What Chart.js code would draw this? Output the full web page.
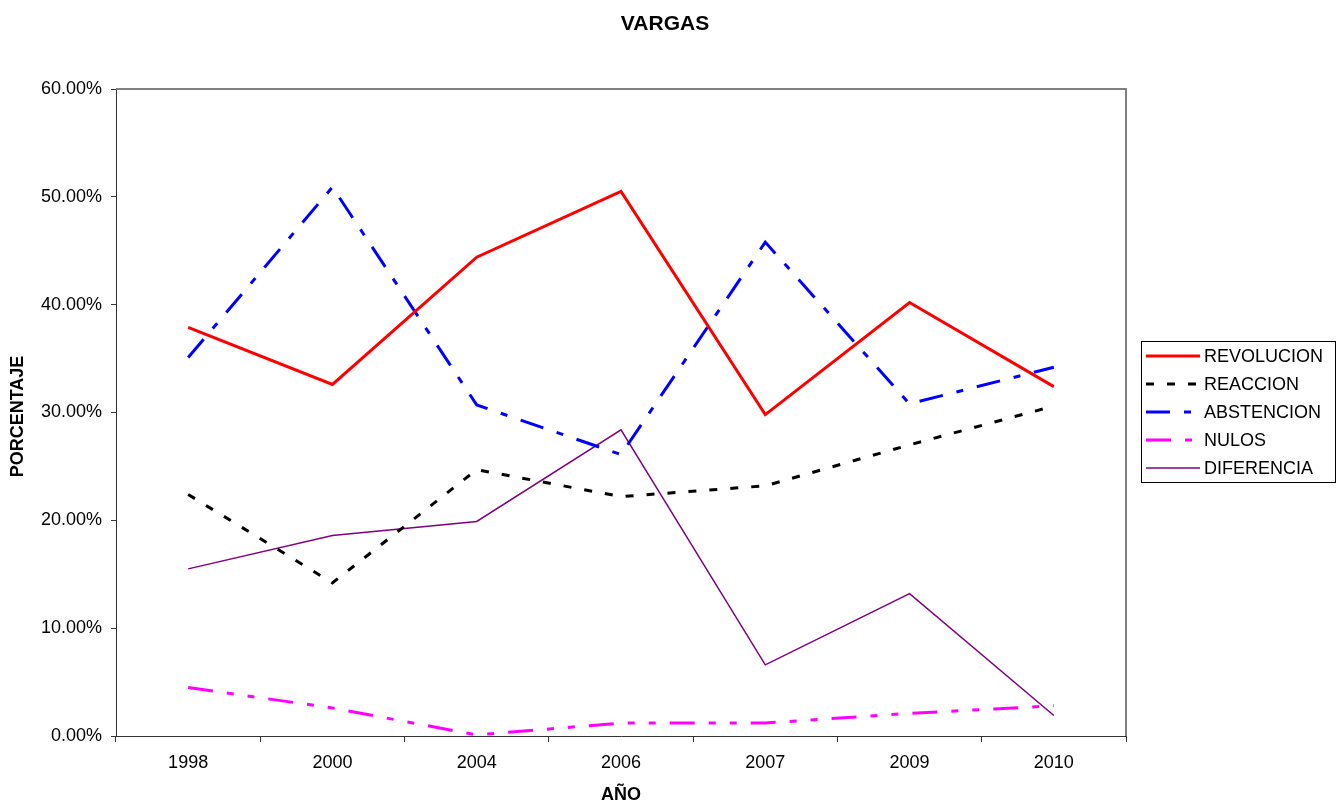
<!DOCTYPE html>
<html>
<head>
<meta charset="utf-8">
<title>VARGAS</title>
<script src="https://cdn.jsdelivr.net/npm/chart.js@4/dist/chart.umd.min.js"></script>
<style>
  body { margin: 0; background: #fff; }
  #wrap { width: 1342px; height: 804px; }
</style>
</head>
<body>
<div id="wrap"><canvas id="chart" width="1342" height="804"></canvas></div>
<script>
// Data (percent)
const years = ['1998', '2000', '2004', '2006', '2007', '2009', '2010'];
const revolucion = [37.9, 32.6, 44.4, 50.5, 29.8, 40.2, 32.4];
const reaccion   = [22.4, 14.2, 24.7, 22.2, 23.2, 27.0, 30.6];
const abstencion = [35.1, 50.9, 30.7, 26.1, 45.8, 30.8, 34.2];
const nulos      = [4.5, 2.6, 0.1, 1.2, 1.2, 2.1, 2.8];
const diferencia = [15.5, 18.6, 19.9, 28.4, 6.6, 13.2, 1.9];
const yTicks = [0, 10, 20, 30, 40, 50, 60];

const FONT = '"Liberation Sans", Arial, sans-serif';

// Draw title, axis titles, plot border and legend box
const extras = {
    id: 'extras',
    afterDraw(chart) {
        const ctx = chart.ctx;
        const area = chart.chartArea;
        ctx.save();

        // top / right border of plot area
        ctx.strokeStyle = '#808080';
        ctx.lineWidth = 2;
        ctx.beginPath();
        ctx.moveTo(area.left, area.top);
        ctx.lineTo(area.right, area.top);
        ctx.lineTo(area.right, area.bottom);
        ctx.stroke();

        ctx.fillStyle = '#000';
        ctx.textAlign = 'center';
        ctx.textBaseline = 'middle';
        ctx.font = 'bold 21px ' + FONT;
        ctx.fillText('VARGAS', 665, 24);

        ctx.font = 'bold 18px ' + FONT;
        ctx.fillText('AÑO', (area.left + area.right) / 2, 795);
        ctx.save();
        ctx.translate(18, (area.top + area.bottom) / 2 + 4);
        ctx.rotate(-Math.PI / 2);
        ctx.fillText('PORCENTAJE', 0, 0);
        ctx.restore();

        // legend
        ctx.strokeStyle = '#000';
        ctx.lineWidth = 1;
        ctx.strokeRect(1141.5, 341.5, 194, 141);
        ctx.font = '18px ' + FONT;
        ctx.textAlign = 'left';
        chart.data.datasets.forEach((ds, i) => {
            const y = 356 + i * 28;
            ctx.beginPath();
            ctx.strokeStyle = ds.borderColor;
            ctx.lineWidth = ds.borderWidth;
            ctx.setLineDash(ds.borderDash || []);
            ctx.moveTo(1146, y);
            ctx.lineTo(1200, y);
            ctx.stroke();
            ctx.setLineDash([]);
            ctx.fillStyle = '#000';
            ctx.fillText(ds.label, 1204, y + 1);
        });
        ctx.restore();
    }
};

new Chart(document.getElementById('chart'), {
    type: 'line',
    data: {
        labels: years,
        datasets: [
            { label: 'REVOLUCION', data: revolucion, borderColor: '#ff0000', borderWidth: 3 },
            { label: 'REACCION', data: reaccion, borderColor: '#000000', borderWidth: 3, borderDash: [8, 13] },
            { label: 'ABSTENCION', data: abstencion, borderColor: '#0000ff', borderWidth: 3, borderDash: [24, 14, 7, 14] },
            { label: 'NULOS', data: nulos, borderColor: '#ff00ff', borderWidth: 3, borderDash: [25, 14, 7, 14, 7, 14] },
            { label: 'DIFERENCIA', data: diferencia, borderColor: '#800080', borderWidth: 1.5 }
        ]
    },
    options: {
        responsive: false,
        animation: false,
        layout: { padding: { top: 89, right: 216, bottom: 0, left: 0 } },
        elements: {
            point: { radius: 0 },
            line: { tension: 0, borderCapStyle: 'butt' }
        },
        plugins: {
            legend: { display: false },
            title: { display: false },
            tooltip: { enabled: false }
        },
        scales: {
            x: {
                offset: true,
                grid: { offset: true, drawOnChartArea: false, tickLength: 6, color: '#333' },
                border: { color: '#333', width: 1 },
                ticks: { color: '#000', font: { family: FONT, size: 18 }, padding: 10 },
                afterFit(scale) { scale.height = 68; }
            },
            y: {
                min: 0,
                max: 60,
                grid: { drawOnChartArea: false, tickLength: 5, color: '#333' },
                border: { color: '#333', width: 1 },
                ticks: {
                    color: '#000',
                    font: { family: FONT, size: 18 },
                    padding: 9,
                    callback: v => v.toFixed(2) + '%'
                },
                afterBuildTicks(scale) { scale.ticks = yTicks.map(v => ({ value: v })); },
                afterFit(scale) { scale.width = 116; }
            }
        }
    },
    plugins: [extras]
});
</script>
</body>
</html>
